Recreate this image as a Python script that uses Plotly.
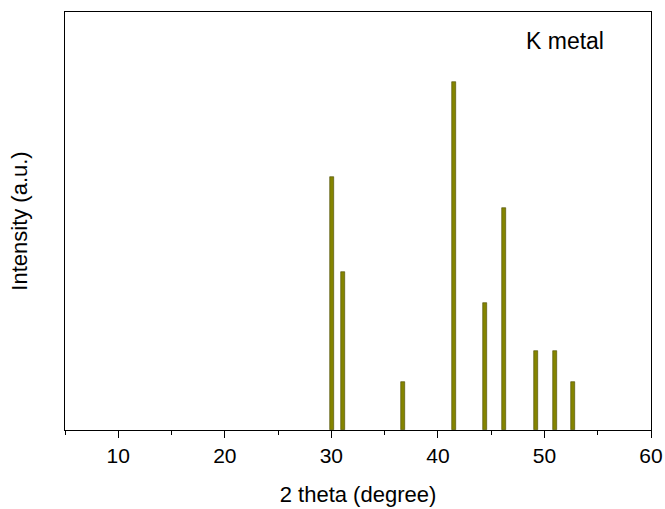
import plotly.graph_objects as go

two_theta = [30.09, 31.08, 36.73, 41.48, 44.38, 46.22, 49.2, 50.96, 52.66]
intensity = [72.7, 45.5, 13.7, 100, 36.4, 63.6, 22.8, 22.8, 13.7]

fig = go.Figure()
fig.add_trace(go.Bar(
    x=two_theta, y=intensity, width=0.38,
    marker=dict(color="#848400", line=dict(color="#4a4a00", width=0.6)),
    showlegend=False,
))

font = "Liberation Sans, Arial, sans-serif"
fig.update_layout(
    width=665, height=509,
    margin=dict(l=65, r=14, t=12, b=79),
    plot_bgcolor="white", paper_bgcolor="white",
    font=dict(family=font, size=21, color="black"),
    xaxis=dict(
        range=[5, 60], tickvals=[10, 20, 30, 40, 50, 60],
        ticks="outside", ticklen=7, tickwidth=1, tickcolor="black",
        minor=dict(tickvals=[5, 15, 25, 35, 45, 55], ticks="outside", ticklen=4, tickcolor="black", tickwidth=1),
        showline=True, linecolor="black", linewidth=1, mirror=True,
        showgrid=False, zeroline=False,
        title=dict(text="2 theta (degree)", font=dict(size=22), standoff=20),
        tickfont=dict(size=21),
        automargin=False,
    ),
    yaxis=dict(
        range=[0, 120], showticklabels=False, ticks="",
        showline=True, linecolor="black", linewidth=1, mirror=True,
        showgrid=False, zeroline=False,
        title=dict(text="Intensity (a.u.)", font=dict(size=22), standoff=30),
        automargin=False,
    ),
    annotations=[dict(
        text="K metal", x=0.783, y=0.93, xref="paper", yref="paper",
        xanchor="left", yanchor="middle", showarrow=False, font=dict(size=23),
    )],
    bargap=0,
)

fig.write_html("out.html")
